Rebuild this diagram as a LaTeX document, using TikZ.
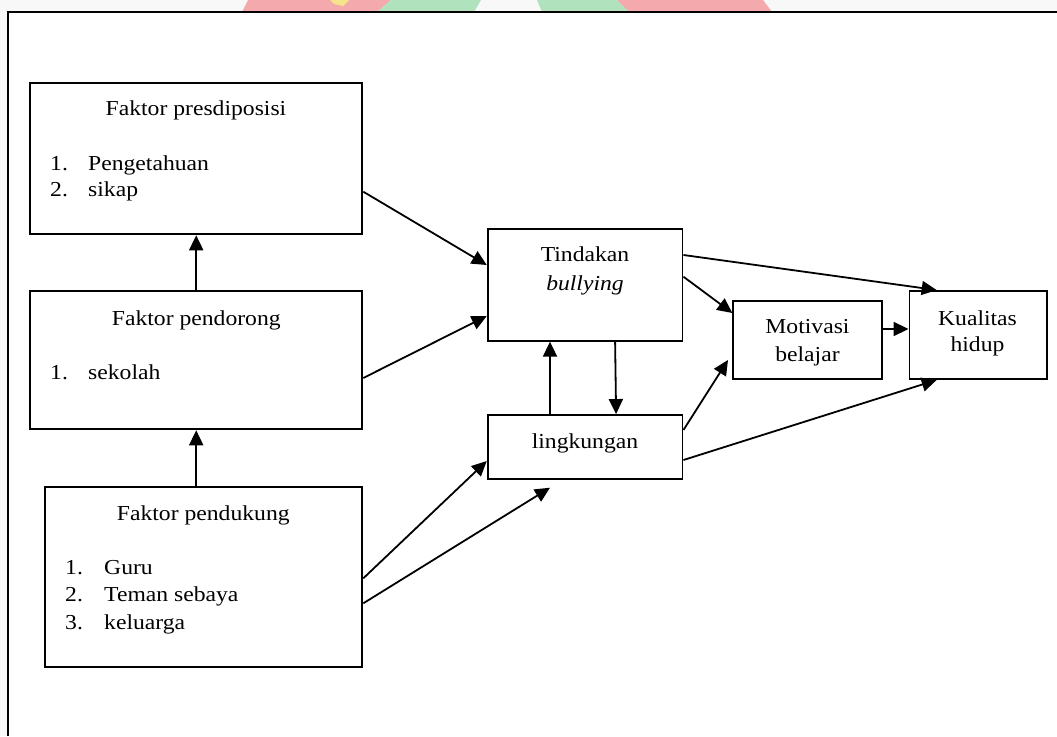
\documentclass[tikz,border=0pt]{standalone}
\usepackage{fontspec}
\setmainfont[FakeStretch=1.11]{Liberation Serif}
\usetikzlibrary{arrows.meta}
\definecolor{wmpink}{HTML}{F4A9AD}
\definecolor{wmgreen}{HTML}{B1E2BE}
\definecolor{wmyellow}{HTML}{F5E58A}
\definecolor{pagegray}{HTML}{F8F8F8}
\begin{document}
\begin{tikzpicture}[x=1pt,y=-1pt,
  box/.style={draw=black, line width=1.9pt, rectangle, inner sep=0pt},
  lbl/.style={inner sep=0pt, font=\fontsize{21.3}{25}\selectfont, anchor=base},
  lbll/.style={lbl, anchor=base west},
  arr/.style={line width=1.8pt, -{Triangle[length=15pt,width=14pt]}},
  frame/.style={line width=2pt, draw=black}
]
\useasboundingbox (0,0) rectangle (1057,736);
% page background
\fill[pagegray] (0,0) rectangle (1057,736);
\fill[white] (7.5,12) rectangle (1057,736);
% faint watermark above the frame
\fill[wmpink] (242,12) -- (248,0) -- (391,0) -- (377,12) -- cycle;
\fill[wmyellow] (330,0) -- (349,0) -- (343,6) -- (334,4) -- cycle;
\fill[wmgreen] (377,12) -- (391,0) -- (481,0) -- (474,12) -- cycle;
\fill[wmgreen] (542,12) -- (537,0) -- (617,0) -- (629,12) -- cycle;
\fill[wmpink] (629,12) -- (617,0) -- (763,0) -- (772,12) -- cycle;
% outer frame
\draw[frame] (7.5,736) -- (7.5,12) -- (1057,12);

% boxes
\node[box, minimum width=332.3pt, minimum height=151pt] (b1) at (196.2,158.8) {};
\node[box, minimum width=332.3pt, minimum height=138pt] (b2) at (196.2,360.3) {};
\node[box, minimum width=317.3pt, minimum height=179.4pt] (b3) at (203.7,577) {};
\node[box, minimum width=194.8pt, minimum height=111.4pt] (t) at (585.1,285) {};
\node[box, minimum width=194.8pt, minimum height=64pt] (l) at (585.1,447) {};
\node[box, minimum width=149pt, minimum height=78pt] (m) at (807.8,340) {};
\node[box, minimum width=137.2pt, minimum height=88pt] (k) at (978.1,335) {};

% texts
\node[lbl] (b1t) at (196,115) {Faktor presdiposisi};
\node[lbll] (b1n1) at (50,170) {1.};
\node[lbll] (b1i1) at (88,170) {Pengetahuan};
\node[lbll] (b1n2) at (50,196.7) {2.};
\node[lbll] (b1i2) at (88,196.7) {sikap};

\node[lbl] (b2t) at (196.3,325) {Faktor pendorong};
\node[lbll] (b2n1) at (50,379) {1.};
\node[lbll] (b2i1) at (88,379) {sekolah};

\node[lbl] (b3t) at (203.3,520) {Faktor pendukung};
\node[lbll] (b3n1) at (65,574) {1.};
\node[lbll] (b3i1) at (104,574) {Guru};
\node[lbll] (b3n2) at (65,601.7) {2.};
\node[lbll] (b3i2) at (104,601.7) {Teman sebaya};
\node[lbll] (b3n3) at (65,629) {3.};
\node[lbll] (b3i3) at (104,629) {keluarga};

\node[lbl] (tt1) at (585,261.7) {Tindakan};
\node[lbl] (tt2) at (585,290) {\itshape bullying};
\node[lbl] (lt) at (585,448.3) {lingkungan};
\node[lbl] (mt1) at (807.5,333) {Motivasi};
\node[lbl] (mt2) at (807.5,361.7) {belajar};
\node[lbl] (kt1) at (977.5,325) {Kualitas};
\node[lbl] (kt2) at (977.5,351.7) {hidup};

% free ends
\coordinate (e6) at (550,487.7);
\coordinate (e12) at (728,360);

% connectors
\draw[arr] ([yshift=-32.9pt]b1.east) -- ([yshift=20pt]t.west);
\draw[arr] ([yshift=-17.7pt]b2.east) -- ([yshift=-31pt]t.west);
\draw[arr] (b2.north) -- (b1.south);
\draw[arr] (b2.south |- b3.north) -- (b2.south);
\draw[arr] ([yshift=-1.3pt]b3.east) -- ([yshift=-14pt]l.west);
\draw[arr] ([yshift=-26.3pt]b3.east) -- (e6);
\draw[arr] ([xshift=-35.1pt]l.north) -- ([xshift=-35.1pt]t.south);
\draw[arr] ([xshift=30pt]t.south) -- ([xshift=31pt]l.north);
\draw[arr] ([yshift=30pt]t.east) -- ([xshift=-41.4pt]k.north);
\draw[arr] ([yshift=8.3pt]t.east) -- ([yshift=27pt]m.west);
\draw[arr] ([yshift=11pt]m.east) -- ([yshift=6pt]k.west);
\draw[arr] ([yshift=17pt]l.east) -- (e12);
\draw[arr] ([yshift=-13pt]l.east) -- ([xshift=-41.4pt]k.south);
\end{tikzpicture}
\end{document}
